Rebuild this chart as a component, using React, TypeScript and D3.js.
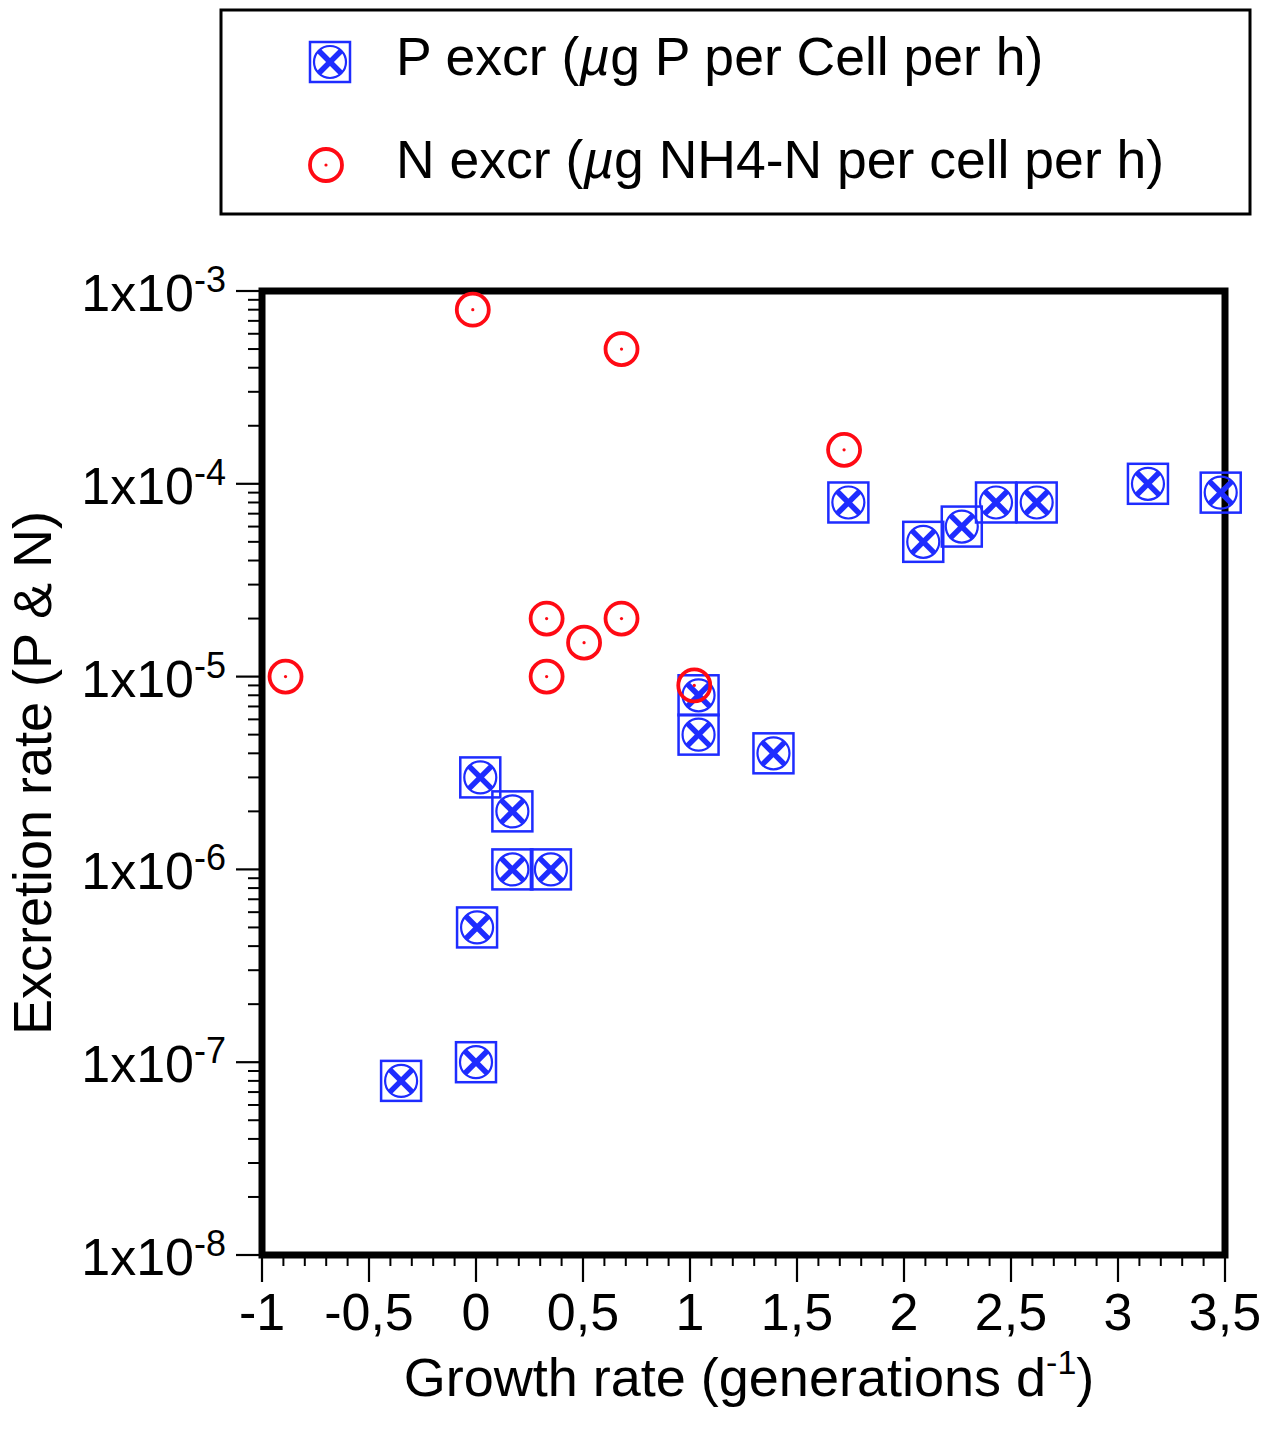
import React from "react";
import * as d3 from "d3";

// ---- data ----
const pGrowth = [-0.35, 0.0, 0.005, 0.02, 0.17, 0.17, 0.35, 1.04, 1.04, 1.39, 1.74, 2.09, 2.27, 2.43, 2.62, 3.14, 3.48];
const pExcr = [8e-8, 1e-7, 5e-7, 3e-6, 2e-6, 1e-6, 1e-6, 8e-6, 5e-6, 4e-6, 8e-5, 5e-5, 6e-5, 8e-5, 8e-5, 1e-4, 9e-5];
const nGrowth = [-0.89, -0.015, 0.68, 1.72, 0.33, 0.505, 0.68, 0.33, 1.02];
const nExcr = [1e-5, 8e-4, 5e-4, 1.5e-4, 2e-5, 1.5e-5, 2e-5, 1e-5, 9e-6];
const xTicks = [-1, -0.5, 0, 0.5, 1, 1.5, 2, 2.5, 3, 3.5];
const yDecades = [-8, -7, -6, -5, -4, -3];
const legendLabels = ["P excr (", "g P per Cell per h)", "N excr (", "g NH4-N per cell per h)"];
const xTitle = "Growth rate (generations d";
const yTitle = "Excretion rate (P & N)";

const FONT = "'Liberation Sans', Arial, Helvetica, sans-serif";
const BLUE = "#1e2cff";
const RED = "#ff0a14";

function PMarker({ cx, cy }: { cx: number; cy: number }) {
  const h = 20;
  const a = 11.5;
  return (
    <g>
      <rect x={cx - h} y={cy - h} width={2 * h} height={2 * h} fill="none" stroke={BLUE} strokeWidth={2.5} />
      <circle cx={cx} cy={cy} r={16} fill="none" stroke={BLUE} strokeWidth={2.2} />
      <line x1={cx - a} y1={cy - a} x2={cx + a} y2={cy + a} stroke={BLUE} strokeWidth={5.5} />
      <line x1={cx - a} y1={cy + a} x2={cx + a} y2={cy - a} stroke={BLUE} strokeWidth={5.5} />
    </g>
  );
}

function NMarker({ cx, cy }: { cx: number; cy: number }) {
  return (
    <g>
      <circle cx={cx} cy={cy} r={16} fill="none" stroke={RED} strokeWidth={3.8} />
      <circle cx={cx} cy={cy} r={1.6} fill={RED} />
    </g>
  );
}

export default function App() {
  const W = 1265;
  const H = 1431;
  const left = 262, right = 1225, top = 291, bottom = 1255;
  const x = d3.scaleLinear().domain([-1, 3.5]).range([left, right]);
  const y = d3.scaleLog().domain([1e-8, 1e-3]).range([bottom, top]);

  const xMinor = d3.range(-10, 36).map((i) => i / 10).filter((v) => Math.abs(v * 2 - Math.round(v * 2)) > 1e-6);
  const yMinor: number[] = [];
  for (let d = -8; d < -3; d++) for (let m = 2; m <= 9; m++) yMinor.push(m * Math.pow(10, d));

  const fmt = (v: number) => String(v).replace(".", ",");

  return (
    <svg width={W} height={H} style={{ position: "absolute", left: 0, top: 0, background: "#fff" }} fontFamily={FONT}>
      <rect x={0} y={0} width={W} height={H} fill="#fff" />
      {/* legend */}
      <rect x={221} y={10} width={1029} height={204} fill="none" stroke="#000" strokeWidth={3} />
      <PMarker cx={330} cy={62} />
      <text x={396} y={75} fontSize={53.5} fill="#000">
        {legendLabels[0]}
        <tspan fontStyle="italic">µ</tspan>
        {legendLabels[1]}
      </text>
      <NMarker cx={326} cy={165} />
      <text x={396} y={178} fontSize={53.5} fill="#000">
        {legendLabels[2]}
        <tspan fontStyle="italic">µ</tspan>
        {legendLabels[3]}
      </text>

      {/* x ticks */}
      {xMinor.map((v, i) => (
        <line key={"xm" + i} x1={x(v)} x2={x(v)} y1={bottom} y2={bottom + 11} stroke="#000" strokeWidth={2} />
      ))}
      {xTicks.map((v, i) => (
        <g key={"xt" + i}>
          <line x1={x(v)} x2={x(v)} y1={bottom} y2={bottom + 27} stroke="#000" strokeWidth={2.2} />
          <text x={x(v)} y={1330} fontSize={52} textAnchor="middle" fill="#000">
            {fmt(v)}
          </text>
        </g>
      ))}

      {/* y ticks */}
      {yMinor.map((v, i) => (
        <line key={"ym" + i} x1={248} x2={left} y1={y(v)} y2={y(v)} stroke="#000" strokeWidth={2} />
      ))}
      {yDecades.map((d, i) => {
        const yy = y(Math.pow(10, d));
        return (
          <g key={"yt" + i}>
            <line x1={236} x2={left} y1={yy} y2={yy} stroke="#000" strokeWidth={2.2} />
            <text x={226} y={yy + 20} fontSize={52} textAnchor="end" fill="#000">
              1x10
              <tspan fontSize={36} dy={-19}>{String(d)}</tspan>
            </text>
          </g>
        );
      })}

      {/* frame */}
      <rect x={left} y={top} width={right - left} height={bottom - top} fill="none" stroke="#000" strokeWidth={7} />

      {/* axis titles */}
      <text x={749} y={1396} fontSize={54} textAnchor="middle" fill="#000">
        {xTitle}
        <tspan fontSize={34} dy={-22}>-1</tspan>
        <tspan dy={22}>)</tspan>
      </text>
      <text
        transform={`translate(51, ${(top + bottom) / 2}) rotate(-90)`}
        fontSize={54}
        textAnchor="middle"
        fill="#000"
      >
        {yTitle}
      </text>

      {/* data */}
      {pGrowth.map((g, i) => (
        <PMarker key={"p" + i} cx={x(g)} cy={y(pExcr[i])} />
      ))}
      {nGrowth.map((g, i) => (
        <NMarker key={"n" + i} cx={x(g)} cy={y(nExcr[i])} />
      ))}
    </svg>
  );
}
